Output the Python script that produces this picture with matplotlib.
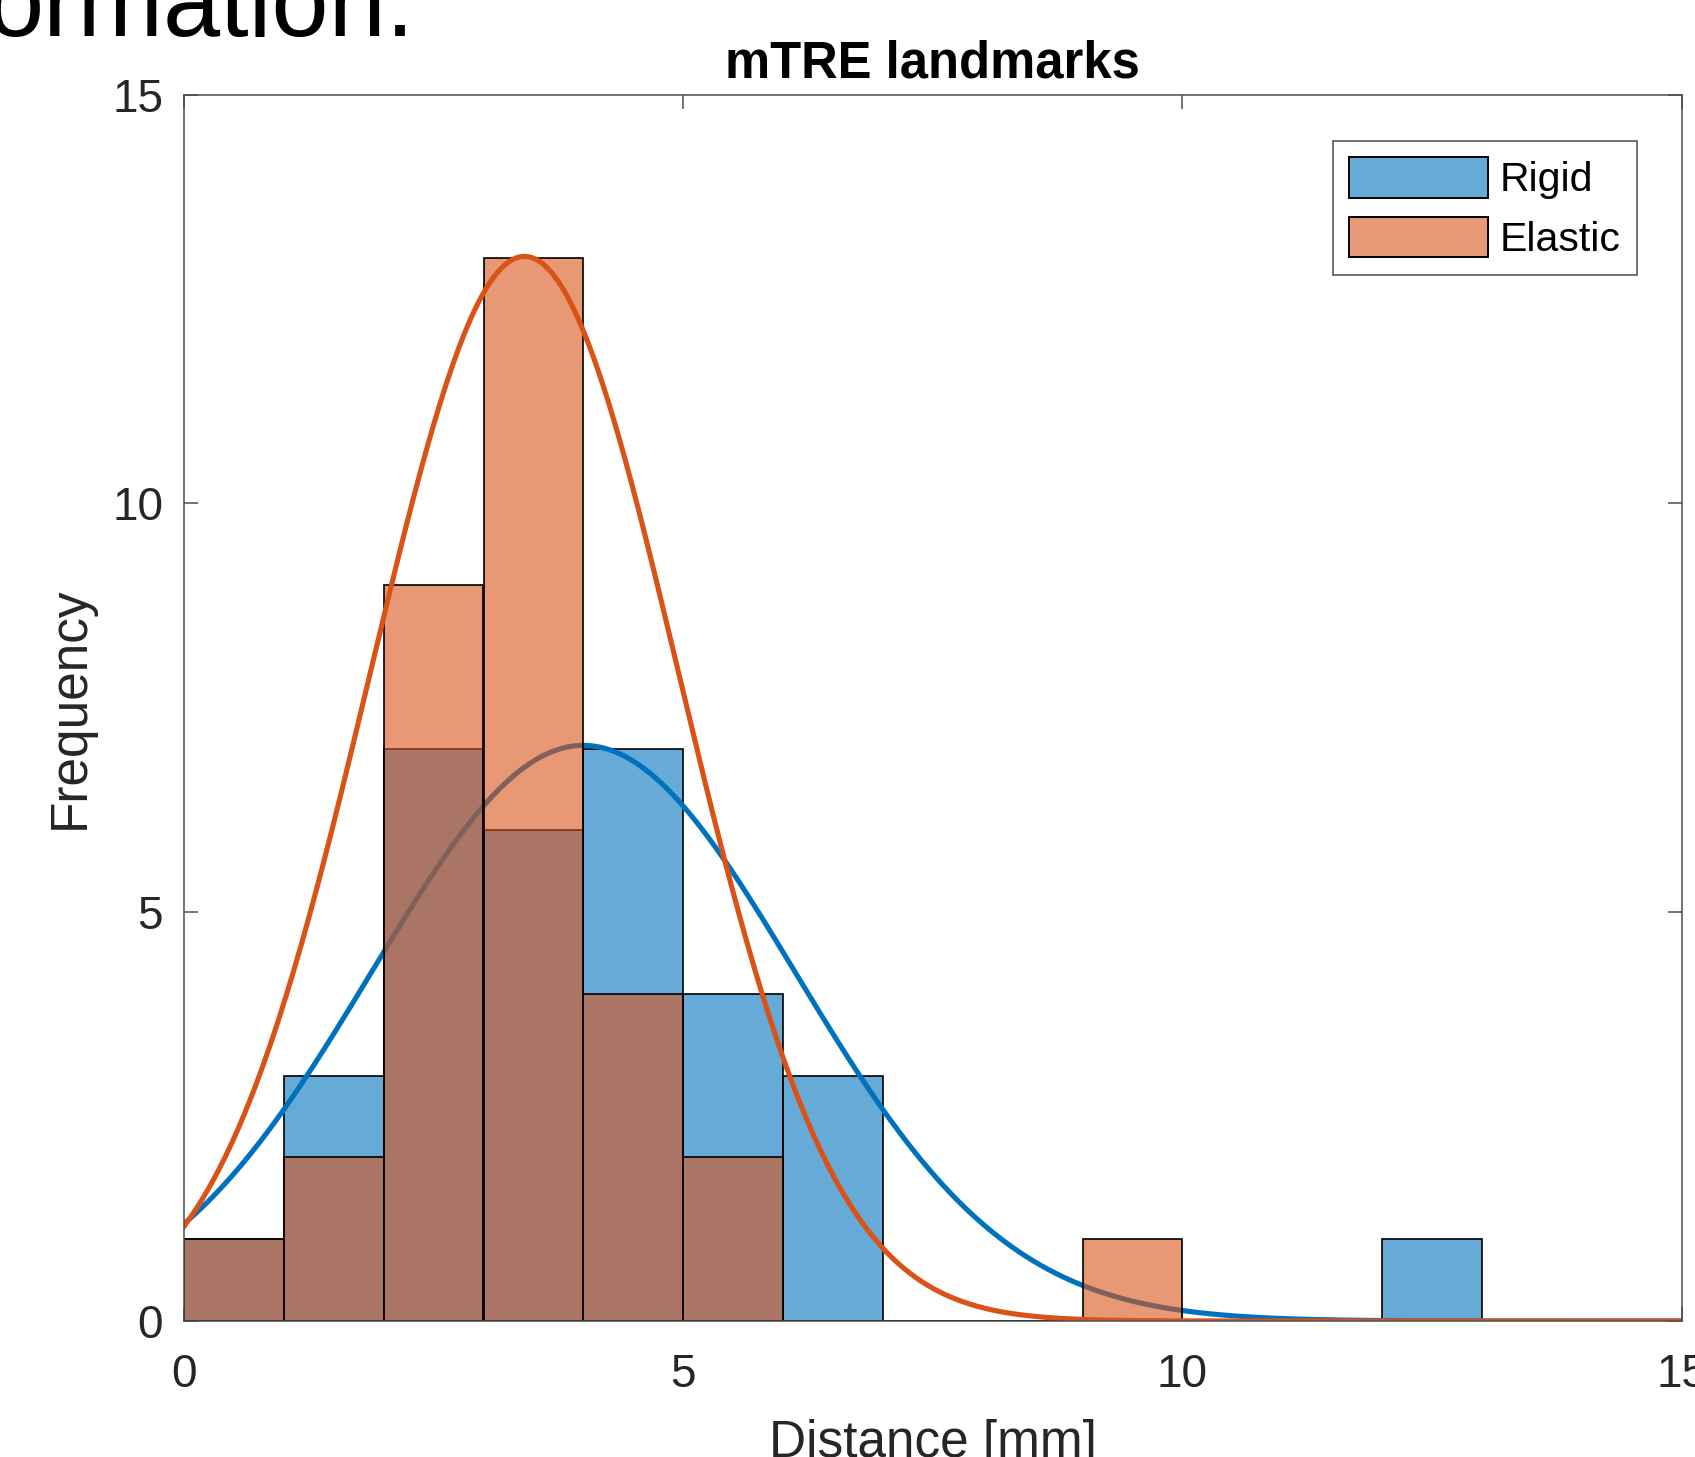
import numpy as np
import matplotlib
matplotlib.use("Agg")
import matplotlib.pyplot as plt

# ---- data ----
bin_width = 1.0
rigid_counts = [1, 3, 7, 6, 7, 4, 3, 0, 0, 0, 0, 0, 1]      # bins 0-1 ... 12-13
elastic_counts = [1, 2, 9, 13, 4, 2, 0, 0, 0, 1]            # bins 0-1 ... 9-10
# fitted normal curves: (mean, sigma, peak height)
rigid_fit = (4.0, 2.12, 7.04)
elastic_fit = (3.41, 1.55, 13.02)
series_labels = ["Rigid", "Elastic"]
xticks = [0, 5, 10, 15]
yticks = [0, 5, 10, 15]

BLUE = (0.0, 0.447, 0.741)
ORANGE = (0.85, 0.325, 0.098)

plt.rcParams['font.family'] = ['Liberation Sans', 'DejaVu Sans']

fig = plt.figure(figsize=(16.95, 14.57), dpi=100)
ax = fig.add_axes([184 / 1695, 1 - 1321 / 1457, (1681.5 - 184) / 1695, (1321 - 94.5) / 1457])

def curve(fit, x):
    mu, s, peak = fit
    return peak * np.exp(-(x - mu) ** 2 / (2 * s ** 2))

xs = np.linspace(0, 15, 600)

r_left = np.arange(len(rigid_counts)) * bin_width
e_left = np.arange(len(elastic_counts)) * bin_width

ax.bar(r_left, rigid_counts, width=bin_width, align='edge',
       facecolor=BLUE + (0.6,), edgecolor='black', linewidth=1.2, zorder=2,
       label=series_labels[0])
ax.plot(xs, curve(rigid_fit, xs), color=BLUE, lw=3.7, zorder=3)
ax.bar(e_left, elastic_counts, width=bin_width, align='edge',
       facecolor=ORANGE + (0.6,), edgecolor='black', linewidth=1.2, zorder=4,
       label=series_labels[1])
ax.plot(xs, curve(elastic_fit, xs), color=ORANGE, lw=3.7, zorder=5)

ax.set_xlim(0, 15)
ax.set_ylim(0, 15)
ax.set_xticks(xticks)
ax.set_yticks(yticks)

axis_col = '#4d4d4d'
for sp in ax.spines.values():
    sp.set_color(axis_col)
    sp.set_linewidth(1.1)
    sp.set_zorder(6)
ax.tick_params(direction='in', top=True, right=True, length=10, width=1.1,
               color=axis_col, labelcolor='#262626', labelsize=33)
ax.tick_params(axis='y', pad=15)
ax.tick_params(axis='x', pad=23)

ax.set_title("mTRE landmarks", fontsize=36.5, fontweight='bold', color='black', pad=12)
ax.set_ylabel("Frequency", fontsize=37, color='#262626')
ax.yaxis.set_label_coords((95 - 184) / 1497, 0.5)
ax.set_xlabel("Distance [mm]", fontsize=37, color='#262626', va='top')
ax.xaxis.set_label_coords(0.5, (1321 - 1419) / 1226.5)

leg = ax.legend(loc='upper right', bbox_to_anchor=(1637 / 1695, 1 - 140.7 / 1457),
                bbox_transform=fig.transFigure, borderaxespad=0, fontsize=29.5,
                handlelength=3.4, handleheight=1.15, handletextpad=0.28,
                labelspacing=0.42, borderpad=0.4, fancybox=False, framealpha=1)
leg.get_frame().set_edgecolor(axis_col)
leg.get_frame().set_linewidth(1.1)
for p in leg.get_patches():
    p.set_linewidth(1.4)

fig.text(415 / 1695, 1 - 36 / 1457, "ormation:", fontsize=74, color='black',
         ha='right', va='baseline')

fig.savefig("out.png", dpi=100)
